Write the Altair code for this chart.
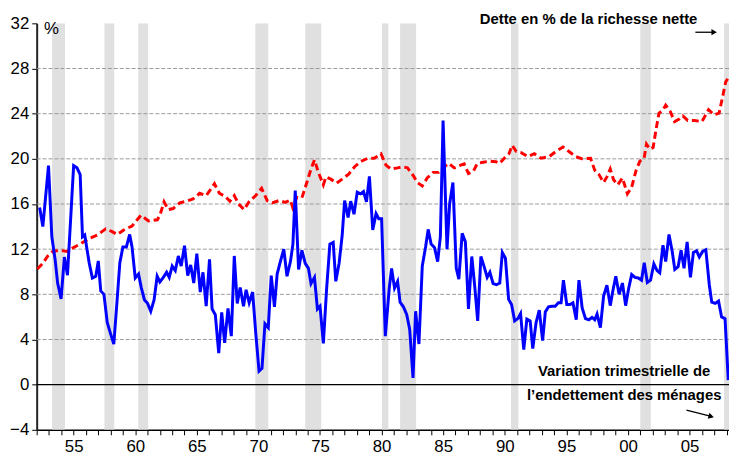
import altair as alt
import pandas as pd

# ---------------- data ----------------
blue_years = [1952.24, 1952.5, 1952.96, 1953.23, 1953.5, 1953.7, 1953.98, 1954.25, 1954.5, 1955.0,
              1955.27, 1955.53, 1955.72, 1955.9, 1956.26, 1956.52, 1956.8, 1957.0, 1957.2, 1957.46,
              1957.73, 1958.0, 1958.26, 1958.53, 1958.75, 1959.0, 1959.28, 1959.55, 1959.74, 1960.0,
              1960.27, 1960.49, 1960.75, 1961.0, 1961.26, 1961.53, 1961.78, 1962.0, 1962.28, 1962.55,
              1962.76, 1963.0, 1963.25, 1963.5, 1963.73, 1964.0, 1964.26, 1964.5, 1964.75, 1965.0,
              1965.28, 1965.5, 1965.76, 1966.03, 1966.24, 1966.5, 1966.78, 1967.02, 1967.26, 1967.53,
              1967.8, 1968.04, 1968.28, 1968.52, 1968.79, 1969.0, 1969.25, 1969.53, 1969.78, 1970.05,
              1970.29, 1970.53, 1970.8, 1971.04, 1971.3, 1971.52, 1971.78, 1972.06, 1972.32, 1972.6,
              1972.8, 1972.99, 1973.26, 1973.53, 1973.8, 1974.06, 1974.27, 1974.55, 1974.79, 1975.0,
              1975.27, 1975.53, 1975.8, 1976.07, 1976.28, 1976.55, 1976.8, 1977.0, 1977.28, 1977.49,
              1977.76, 1978.02, 1978.29, 1978.53, 1978.77, 1979.01, 1979.28, 1979.55, 1979.77, 1980.0,
              1980.3, 1980.62, 1980.81, 1981.05, 1981.3, 1981.5, 1981.77, 1982.04, 1982.28, 1982.55,
              1982.76, 1983.03, 1983.3, 1983.57, 1983.78, 1984.02, 1984.29, 1984.55, 1984.77, 1984.99,
              1985.31, 1985.52, 1985.79, 1986.06, 1986.27, 1986.54, 1986.8, 1987.05, 1987.32, 1987.56,
              1987.8, 1988.06, 1988.31, 1988.57, 1988.79, 1989.05, 1989.32, 1989.59, 1989.8, 1990.05,
              1990.31, 1990.55, 1990.8, 1991.06, 1991.28, 1991.54, 1991.79, 1992.06, 1992.27, 1992.54,
              1992.8, 1993.07, 1993.29, 1993.55, 1993.82, 1994.09, 1994.35, 1994.57, 1994.76, 1995.03,
              1995.3, 1995.53, 1995.8, 1996.02, 1996.28, 1996.55, 1996.82, 1997.08, 1997.3, 1997.49,
              1997.76, 1998.02, 1998.29, 1998.56, 1998.77, 1999.01, 1999.28, 1999.55, 1999.81, 2000.05,
              2000.3, 2000.57, 2000.84, 2001.1, 2001.32, 2001.57, 2001.83, 2002.1, 2002.36, 2002.58,
              2002.84, 2003.06, 2003.33, 2003.59, 2003.8, 2004.07, 2004.31, 2004.55, 2004.8, 2005.07,
              2005.31, 2005.57, 2005.79, 2006.06, 2006.32, 2006.6, 2006.8, 2007.08, 2007.35, 2007.6,
              2007.88, 2008.14]
blue_vals = [15.7, 14.0, 19.4, 13.1, 11.05, 9.0, 7.6, 11.3, 9.7, 19.4,
             19.2, 18.6, 13.1, 13.25, 10.8, 9.45, 9.6, 10.96, 8.3, 8.0,
             5.5, 4.5, 3.6, 7.5, 10.8, 12.2, 12.2, 13.3, 12.2, 9.45,
             9.8, 8.6, 7.5, 7.2, 6.5, 7.5, 9.6, 9.1, 9.5, 9.95,
             9.5, 10.5, 10.1, 11.4, 10.5, 12.3, 9.65, 10.6, 9.0, 11.6,
             8.2, 9.95, 6.95, 11.1, 6.7, 6.2, 2.8, 6.4, 3.7, 6.75,
             4.3, 11.4, 7.2, 8.6, 6.95, 8.4, 7.25, 8.2, 4.6, 1.2,
             1.45, 5.4, 5.05, 9.65, 6.9, 9.8, 10.9, 12.0, 9.6, 10.9,
             12.45, 17.2, 10.2, 11.9, 10.75, 10.3, 8.95, 9.5, 6.7, 6.95,
             3.65, 8.4, 12.45, 12.6, 9.15, 10.75, 13.25, 16.3, 14.8, 16.25,
             15.1, 17.05, 16.9, 17.1, 16.2, 18.45, 13.7, 15.15, 14.7, 14.7,
             4.3, 8.55, 10.3, 8.55, 9.15, 7.3, 6.9, 6.2, 4.9, 0.6,
             6.5, 3.6, 10.5, 12.2, 13.75, 12.45, 12.15, 10.9, 13.1, 23.4,
             12.0, 16.0, 17.9, 10.3, 9.35, 13.4, 12.65, 6.7, 11.35, 8.7,
             5.65, 11.35, 10.5, 9.5, 9.95, 8.95, 8.85, 9.0, 11.7, 11.2,
             7.55, 7.1, 5.65, 5.85, 6.3, 3.1, 5.8, 5.65, 3.2, 5.5,
             6.6, 3.9, 6.45, 6.9, 6.95, 6.95, 7.25, 7.25, 9.25, 7.1,
             7.1, 7.25, 5.75, 9.25, 6.8, 5.85, 5.75, 5.95, 5.75, 6.25,
             5.05, 7.85, 8.8, 7.0, 8.3, 9.6, 8.0, 9.0, 7.0, 8.5,
             9.75, 9.5, 9.45, 9.25, 10.8, 9.05, 9.25, 10.7, 10.1, 9.9,
             12.35, 10.9, 13.3, 11.8, 10.2, 10.45, 11.9, 10.3, 12.65, 9.5,
             11.7, 11.85, 11.3, 11.8, 11.95, 8.85, 7.3, 7.2, 7.4, 6.0,
             5.85, 0.4]

red_years = [1952.05, 1952.5, 1952.9, 1953.3, 1953.85, 1954.47, 1955.0, 1955.6, 1956.26, 1956.93,
             1957.6, 1958.13, 1958.53, 1959.07, 1959.74, 1960.46, 1961.08, 1961.8, 1962.0, 1962.34,
             1962.68, 1963.08, 1963.62, 1964.15, 1964.69, 1965.23, 1965.76, 1966.16, 1966.43, 1966.83,
             1967.32, 1967.69, 1968.04, 1968.39, 1968.84, 1969.24, 1969.78, 1970.26, 1970.71, 1971.12,
             1971.65, 1972.18, 1972.59, 1972.78, 1973.12, 1973.53, 1973.93, 1974.27, 1974.55, 1974.87,
             1975.27, 1975.48, 1975.88, 1976.34, 1976.8, 1977.33, 1977.81, 1978.29, 1978.88, 1979.41,
             1979.95, 1980.35, 1980.76, 1981.3, 1981.7, 1982.1, 1982.58, 1982.9, 1983.3, 1983.7,
             1984.18, 1984.63, 1985.04, 1985.44, 1985.9, 1986.32, 1986.7, 1987.05, 1987.45, 1987.77,
             1988.25, 1988.79, 1989.27, 1989.59, 1989.99, 1990.34, 1990.6, 1990.93, 1991.33, 1991.87,
             1992.4, 1992.94, 1993.61, 1994.14, 1994.73, 1995.21, 1995.75, 1996.28, 1996.96, 1997.3,
             1997.62, 1998.02, 1998.29, 1998.56, 1998.83, 1999.17, 1999.55, 1999.95, 2000.3, 2000.65,
             2000.97, 2001.3, 2001.5, 2001.78, 2002.04, 2002.3, 2002.52, 2002.79, 2003.06, 2003.43,
             2003.78, 2004.13, 2004.45, 2004.85, 2005.39, 2006.0, 2006.54, 2006.99, 2007.4, 2007.72,
             2007.93, 2008.2]
red_vals = [10.25, 10.75, 11.4, 11.8, 11.9, 11.8, 12.15, 12.5, 12.95, 13.25,
            13.8, 13.55, 13.3, 13.7, 14.05, 15.0, 14.5, 14.6, 15.0, 16.2,
            15.5, 15.6, 16.1, 16.25, 16.45, 16.95, 16.75, 17.35, 17.8, 16.95,
            16.65, 16.25, 16.75, 16.0, 15.5, 16.2, 16.75, 17.4, 16.3, 16.1,
            16.3, 16.15, 16.35, 15.7, 16.6, 16.55, 17.9, 19.1, 19.9, 18.8,
            17.7, 18.4, 18.2, 17.85, 18.2, 18.65, 19.3, 19.75, 20.05, 20.05,
            20.45, 19.45, 19.1, 19.2, 19.3, 19.2, 18.5, 17.9, 17.6, 18.3,
            18.8, 18.8, 19.25, 19.6, 19.2, 19.4, 19.55, 18.7, 18.9, 19.6,
            19.7, 19.8, 19.75, 19.6, 20.1, 20.45, 21.2, 20.65, 20.55, 20.2,
            20.45, 20.05, 20.2, 20.65, 21.05, 20.65, 20.2, 20.0, 20.05, 19.0,
            18.65, 17.9, 18.4, 19.1, 18.15, 17.7, 18.3, 16.9, 17.5, 18.95,
            19.8, 20.0, 21.3, 20.85, 21.0, 22.75, 24.05, 24.25, 24.75, 24.2,
            23.3, 23.5, 23.8, 23.4, 23.4, 23.3, 24.35, 23.9, 24.05, 25.7,
            26.8, 27.3]

rec_start = [1953.25, 1957.5, 1960.25, 1969.75, 1973.8, 1980.03, 1981.5, 1990.5, 2001.0, 2007.8]
rec_end = [1954.3, 1958.3, 1961.05, 1970.8, 1975.1, 1980.55, 1982.8, 1991.1, 2001.85, 2009.5]

grid_vals = [4, 8, 12, 16, 20, 24, 28]
y_ticks = [-4, 0, 4, 8, 12, 16, 20, 24, 28, 32]
x_ticks = list(range(1952, 2009))

label_top = "Dette en % de la richesse nette"
label_bottom = ["Variation trimestrielle de", "l\u2019endettement des ménages"]

# ---------------- chart ----------------
W, H = 700, 411
FONT = "Liberation Sans"

xscale = alt.Scale(domain=[1952, 2008.2], nice=False, zero=False)
yscale = alt.Scale(domain=[-4, 32], nice=False, zero=False)

xaxis = alt.Axis(values=x_ticks,
                 labelExpr="datum.value % 5 === 0 ? substring(toString(datum.value), 2) : ''",
                 labelOverlap=False, tickSize=5, tickColor="black", domainColor="black",
                 domainWidth=1.5, labelFontSize=17, labelColor="black", labelFont=FONT,
                 labelPadding=4, grid=False, title=None)
yaxis = alt.Axis(values=y_ticks, tickSize=5, tickColor="black", domainColor="#222222",
                 domainWidth=2, labelFontSize=17, labelColor="black", labelFont=FONT,
                 labelPadding=3, grid=False, title=None, labelOverlap=False)

blue_df = pd.DataFrame({"year": blue_years, "val": blue_vals})
red_df = pd.DataFrame({"year": red_years, "val": red_vals})
rec_df = pd.DataFrame({"year": rec_start, "e": rec_end})
grid_df = pd.DataFrame({"val": grid_vals})

X = alt.X("year:Q", scale=xscale, axis=xaxis, title=None)
Y = alt.Y("val:Q", scale=yscale, axis=yaxis, title=None)

bands = alt.Chart(rec_df).mark_rect(color="#E0E0E0", clip=True).encode(
    x=X, x2="e:Q", y=alt.value(0), y2=alt.value(H),
)

grid = alt.Chart(grid_df).mark_rule(strokeDash=[4, 2], color="#9A9A9A", strokeWidth=1).encode(y=Y)

zero = alt.Chart(pd.DataFrame({"val": [0]})).mark_rule(color="black", strokeWidth=1.3).encode(y=Y)

red = alt.Chart(red_df).mark_line(color="#FF0000", strokeWidth=3, strokeDash=[7, 4], clip=True).encode(
    x=X, y=Y)

blue = alt.Chart(blue_df).mark_line(color="#0000FF", strokeWidth=3, clip=True).encode(
    x=X, y=Y)

one = pd.DataFrame({"a": [0]})

pct = alt.Chart(one).mark_text(text="%", font=FONT, fontSize=17, color="black", align="center", baseline="middle").encode(
    x=alt.value(15), y=alt.value(6))

top_txt = alt.Chart(one).mark_text(text=label_top, font=FONT, fontSize=15, fontWeight="bold", color="black",
                                   align="right", baseline="middle").encode(x=alt.value(668), y=alt.value(-4))

bot_txt = alt.Chart(one).mark_text(text=label_bottom, font=FONT, fontSize=15, fontWeight="bold", color="black",
                                   align="center", baseline="middle", lineHeight=24).encode(
    x=alt.value(594), y=alt.value(352))

arrow1 = alt.Chart(one).mark_rule(color="black", strokeWidth=1.3).encode(
    x=alt.value(666), x2=alt.value(683), y=alt.value(9), y2=alt.value(9))
head1 = alt.Chart(one).mark_point(shape="triangle-right", filled=True, color="black", size=40, opacity=1).encode(
    x=alt.value(685), y=alt.value(9))

arrow2 = alt.Chart(one).mark_rule(color="black", strokeWidth=1.3).encode(
    x=alt.value(657), x2=alt.value(680), y=alt.value(391), y2=alt.value(397))
head2 = alt.Chart(one).mark_point(shape="triangle-right", filled=True, color="black", size=40, opacity=1, angle=15).encode(
    x=alt.value(682), y=alt.value(397.5))

chart = alt.layer(bands, grid, zero, red, blue, pct, top_txt, bot_txt, arrow1, head1, arrow2, head2).properties(
    width=W, height=H,
    autosize=alt.AutoSizeParams(type="none"),
    padding={"left": 29, "top": 13, "right": 0, "bottom": 29},
    background="white",
).configure_view(stroke=None)

chart.save("out.html", embed_options={"renderer": "svg", "actions": False})
